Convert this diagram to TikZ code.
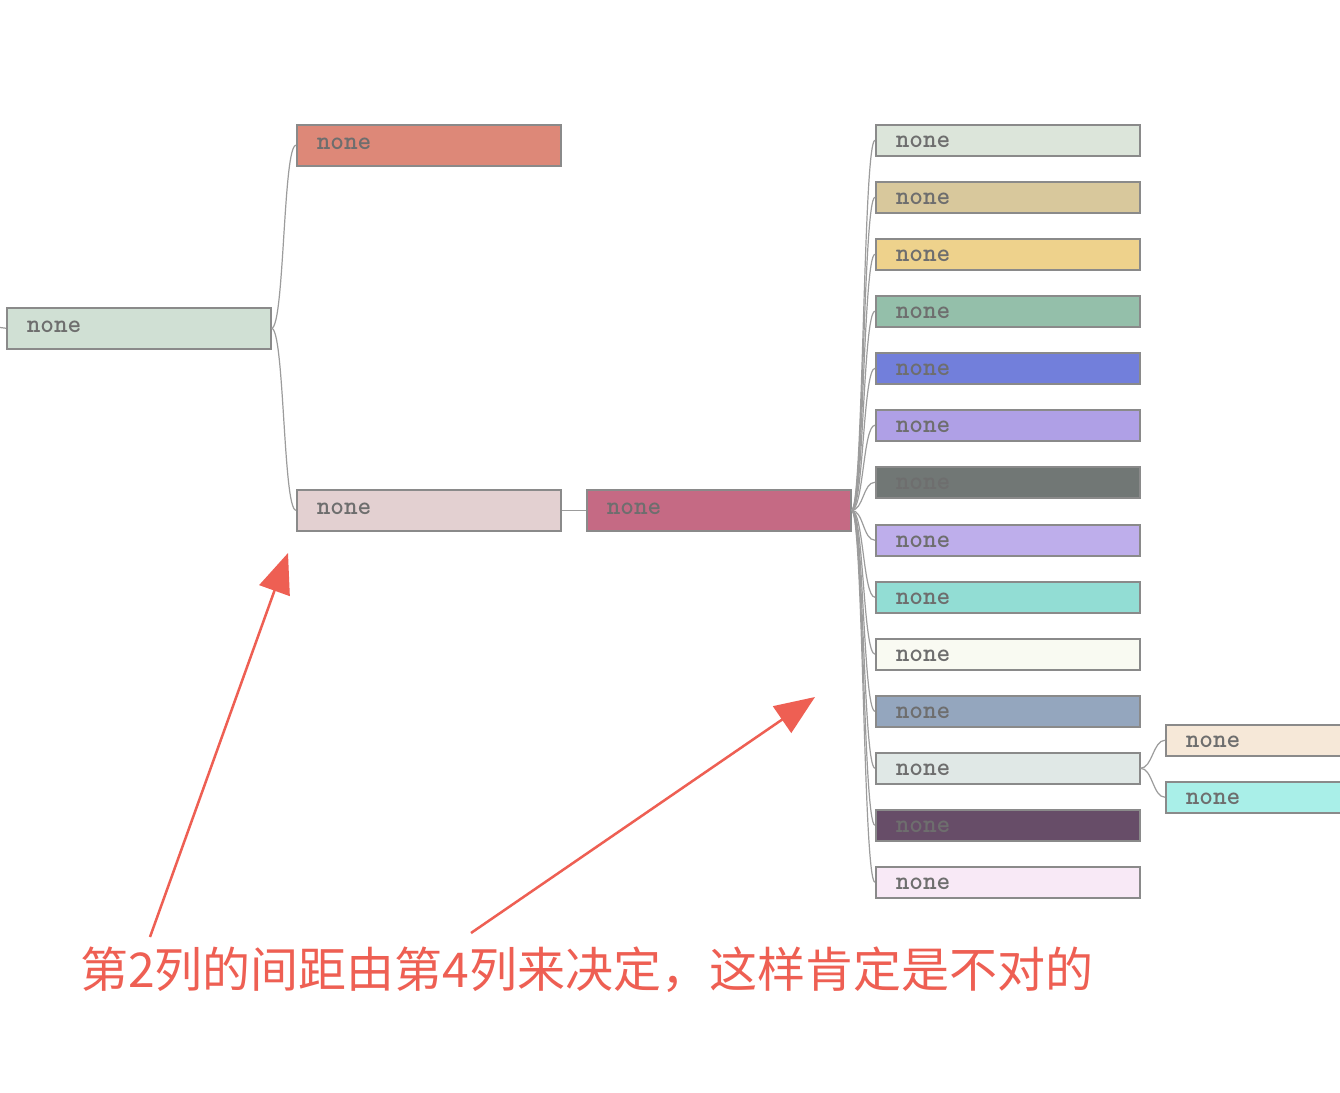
\documentclass[tikz,border=0pt]{standalone}
\usepackage{fontspec}
\usetikzlibrary{arrows.meta}
\newfontfamily\cjk{Noto Sans CJK SC}
\definecolor{bordc}{HTML}{8A8A8A}
\definecolor{linec}{HTML}{9C9C9C}
\definecolor{txtc}{HTML}{6E6E6E}
\definecolor{redc}{HTML}{EE5F53}
\definecolor{cA}{HTML}{D0E0D4}
\definecolor{cB}{HTML}{DD8878}
\definecolor{cC}{HTML}{E3D0D1}
\definecolor{cD}{HTML}{C56A84}
\definecolor{d1}{HTML}{DCE5DA}
\definecolor{d2}{HTML}{D8C89C}
\definecolor{d3}{HTML}{EED28C}
\definecolor{d4}{HTML}{94BFAA}
\definecolor{d5}{HTML}{727FDB}
\definecolor{d6}{HTML}{AFA0E6}
\definecolor{d7}{HTML}{717775}
\definecolor{d8}{HTML}{BEAEEB}
\definecolor{d9}{HTML}{92DDD4}
\definecolor{d10}{HTML}{F9FAF2}
\definecolor{d11}{HTML}{94A6BE}
\definecolor{d12}{HTML}{E0E8E6}
\definecolor{d13}{HTML}{674D68}
\definecolor{d14}{HTML}{F8E9F6}
\definecolor{e1}{HTML}{F6E8D8}
\definecolor{e2}{HTML}{A9EFE8}
\tikzset{
  box/.style={draw=bordc, line width=1.5pt, rectangle, anchor=north west,
    inner xsep=20pt, inner ysep=0pt, text width=224pt, align=left,
    font=\ttfamily\bfseries\fontsize{26}{26}\selectfont, text=txtc},
  bigbox/.style={box, minimum height=41pt, text height=25pt, text depth=16pt},
  smallbox/.style={box, minimum height=31pt, text height=23pt, text depth=8pt},
  conn/.style={draw=linec, line width=1.2pt},
  note/.style={draw=redc, line width=2.5pt, -{Triangle[length=40pt,width=32pt]}}
}
\begin{document}
\begin{tikzpicture}[x=1pt,y=-1pt]
\fill[white] (0,0) rectangle (1340,1092);
\useasboundingbox (0,0) rectangle (1340,1092);

\node[bigbox, fill=cA] (root) at (6,307) {none};
\node[bigbox, fill=cB] (c2a) at (296,124) {none};
\node[bigbox, fill=cC] (c2b) at (296,489) {none};
\node[bigbox, fill=cD] (c3) at (586,489) {none};

\foreach \i/\y in {1/124,2/181,3/238,4/295,5/352,6/409,7/466,8/524,9/581,10/638,11/695,12/752,13/809,14/866}{
  \node[smallbox, fill=d\i] (c4n\i) at (875,\y) {none};
}
\node[smallbox, fill=e1] (c5a) at (1165,724) {none};
\node[smallbox, fill=e2] (c5b) at (1165,781) {none};

\coordinate (stub) at (0,327.5);
\draw[conn] (stub) -- (root.west);
\draw[conn] (root.east) .. controls +(13,0) and +(-13,0) .. (c2a.west);
\draw[conn] (root.east) .. controls +(13,0) and +(-13,0) .. (c2b.west);
\draw[conn] (c2b.east) -- (c3.west);
\foreach \i in {1,...,14}{
  \draw[conn] (c3.east) .. controls +(12,0) and +(-12,0) .. (c4n\i.west);
}
\draw[conn] (c4n12.east) .. controls +(12,0) and +(-12,0) .. (c5a.west);
\draw[conn] (c4n12.east) .. controls +(12,0) and +(-12,0) .. (c5b.west);

\coordinate (a1s) at (150,937);
\coordinate (a1e) at (288,553);
\coordinate (a2s) at (471,933);
\coordinate (a2e) at (815,697);
\draw[note] (a1s) -- (a1e);
\draw[note] (a2s) -- (a2e);

\node[anchor=base west, inner sep=0pt, text=redc, font=\cjk\fontsize{48}{48}\selectfont] (caption) at (80,987) {第2列的间距由第4列来决定，这样肯定是不对的};
\end{tikzpicture}
\end{document}
